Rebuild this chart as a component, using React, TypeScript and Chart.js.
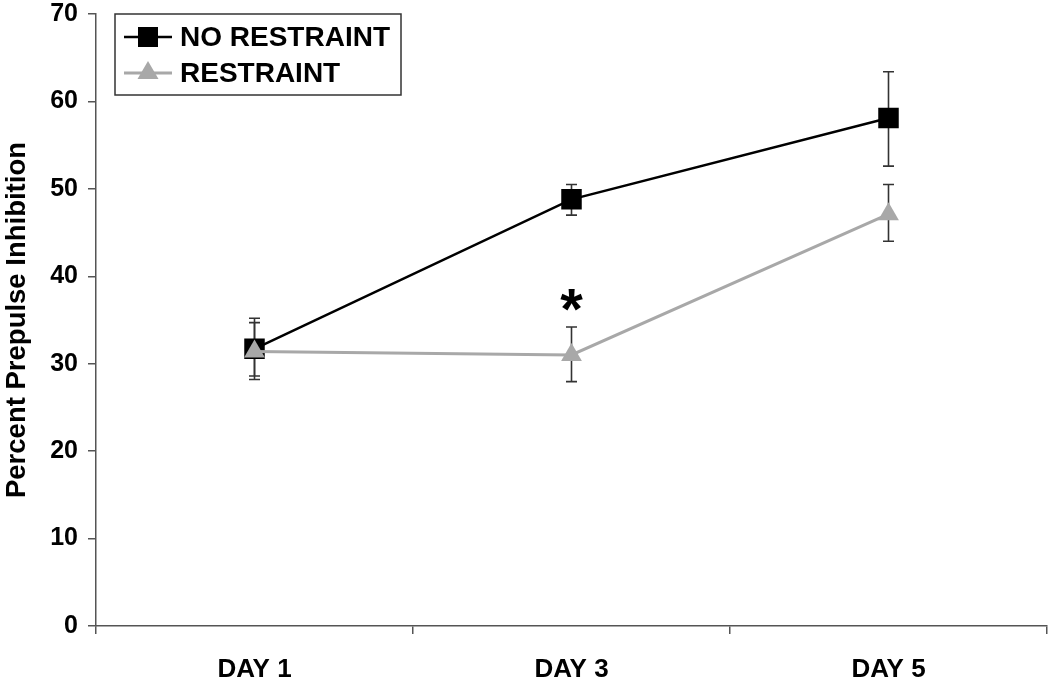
import { useEffect, useRef } from 'react';
import { Chart, registerables } from 'chart.js';

Chart.register(...registerables);

const categories = ['DAY 1', 'DAY 3', 'DAY 5'];
const seriesNames = ['NO RESTRAINT', 'RESTRAINT'];
const noRestraint = [31.7, 48.8, 58.1];
const noRestraintHigh = [35.2, 50.5, 63.4];
const noRestraintLow = [28.2, 47.0, 52.6];
const restraint = [31.4, 31.0, 47.1];
const restraintHigh = [34.7, 34.2, 50.5];
const restraintLow = [28.6, 27.95, 44.0];
const yTicks = [0, 10, 20, 30, 40, 50, 60, 70];
const yTitle = 'Percent Prepulse Inhibition';
const markCategories = ['DAY 3'];
const markValues = [37.3];
const markLabels = ['*'];

const FONT = "'Liberation Sans', Arial, sans-serif";
const BLACK = '#000000';
const GRAY = '#a8a8a8';
const AXIS = '#555555';

const errorBars = {
  id: 'errorBars',
  beforeDatasetsDraw(chart: any) {
    const ctx = chart.ctx;
    const y = chart.scales.y;
    const highs = [noRestraintHigh, restraintHigh];
    const lows = [noRestraintLow, restraintLow];
    ctx.save();
    ctx.strokeStyle = '#333333';
    ctx.lineWidth = 1.6;
    for (let i = 0; i < 2; i++) {
      const meta = chart.getDatasetMeta(i);
      meta.data.forEach((pt: any, j: number) => {
        const x = pt.x;
        const yh = y.getPixelForValue(highs[i][j]);
        const yl = y.getPixelForValue(lows[i][j]);
        ctx.beginPath();
        ctx.moveTo(x, yh);
        ctx.lineTo(x, yl);
        ctx.moveTo(x - 5.5, yh);
        ctx.lineTo(x + 5.5, yh);
        ctx.moveTo(x - 5.5, yl);
        ctx.lineTo(x + 5.5, yl);
        ctx.stroke();
      });
    }
    ctx.restore();
  },
};

const overlay = {
  id: 'overlay',
  afterDraw(chart: any) {
    const ctx = chart.ctx;
    const area = chart.chartArea;
    const xs = chart.scales.x;
    const ys = chart.scales.y;
    ctx.save();
    // significance marks
    ctx.fillStyle = BLACK;
    ctx.font = `bold 58px ${FONT}`;
    ctx.textAlign = 'center';
    ctx.textBaseline = 'alphabetic';
    markLabels.forEach((lab, k) => {
      const x = xs.getPixelForValue(categories.indexOf(markCategories[k]));
      const yc = ys.getPixelForValue(markValues[k]);
      const m = ctx.measureText(lab);
      const off = (m.actualBoundingBoxAscent - m.actualBoundingBoxDescent) / 2;
      ctx.fillText(lab, x, yc + off);
    });
    // legend
    const lx = area.left + 19;
    const ly = area.top;
    const lw = 286;
    const lh = 81;
    ctx.strokeStyle = '#333333';
    ctx.lineWidth = 1.5;
    ctx.strokeRect(lx, ly, lw, lh);
    const rows = [
      { y: ly + 23, color: BLACK, style: 'rect', width: 2.5 },
      { y: ly + 59, color: GRAY, style: 'triangle', width: 3 },
    ];
    rows.forEach((r, i) => {
      ctx.strokeStyle = r.color;
      ctx.lineWidth = r.width;
      ctx.beginPath();
      ctx.moveTo(lx + 9, r.y);
      ctx.lineTo(lx + 57, r.y);
      ctx.stroke();
      ctx.fillStyle = r.color;
      const cx = lx + 33;
      if (r.style === 'rect') {
        ctx.fillRect(cx - 10, r.y - 10, 20, 20);
      } else {
        ctx.beginPath();
        ctx.moveTo(cx, r.y - 12);
        ctx.lineTo(cx + 10.5, r.y + 6);
        ctx.lineTo(cx - 10.5, r.y + 6);
        ctx.closePath();
        ctx.fill();
      }
      ctx.fillStyle = BLACK;
      ctx.font = `bold 28px ${FONT}`;
      ctx.textAlign = 'left';
      ctx.textBaseline = 'middle';
      ctx.fillText(seriesNames[i], lx + 65, r.y + 1);
    });
    ctx.restore();
  },
};

export default function App() {
  const ref = useRef<HTMLCanvasElement | null>(null);
  useEffect(() => {
    if (!ref.current) return;
    const chart = new Chart(ref.current, {
      type: 'line',
      data: {
        labels: categories,
        datasets: [
          {
            label: seriesNames[0],
            data: noRestraint,
            borderColor: BLACK,
            backgroundColor: BLACK,
            borderWidth: 2.5,
            pointStyle: 'rect',
            pointRadius: 14.5,
            pointBorderWidth: 0,
            pointBackgroundColor: BLACK,
            order: 1,
          },
          {
            label: seriesNames[1],
            data: restraint,
            borderColor: GRAY,
            backgroundColor: GRAY,
            borderWidth: 3,
            pointStyle: 'triangle',
            pointRadius: 12,
            pointBorderWidth: 0,
            pointBackgroundColor: GRAY,
            order: 0,
          },
        ],
      },
      options: {
        animation: false,
        responsive: false,
        maintainAspectRatio: false,
        layout: { autoPadding: false, padding: { top: 14, right: 3, left: 0, bottom: 0 } },
        plugins: { legend: { display: false }, tooltip: { enabled: false } },
        scales: {
          x: {
            type: 'category',
            offset: true,
            grid: {
              offset: true,
              drawOnChartArea: false,
              drawTicks: true,
              tickLength: 8,
              color: AXIS,
              lineWidth: 1.5,
            },
            border: { display: true, color: AXIS, width: 1.5 },
            ticks: {
              color: BLACK,
              padding: 20,
              font: { family: FONT, size: 26, weight: 'bold' },
            },
            afterFit(scale: any) {
              scale.height = 52;
              scale.paddingLeft = 0;
              scale.paddingRight = 0;
            },
          },
          y: {
            min: 0,
            max: 70,
            afterBuildTicks(scale: any) {
              scale.ticks = yTicks.map((v) => ({ value: v }));
            },
            grid: {
              drawOnChartArea: false,
              drawTicks: true,
              tickLength: 8,
              color: AXIS,
              lineWidth: 1.5,
            },
            border: { display: true, color: AXIS, width: 1.5 },
            ticks: {
              color: BLACK,
              padding: 10,
              font: { family: FONT, size: 25, weight: 'bold' },
            },
            title: {
              display: true,
              text: yTitle,
              color: BLACK,
              padding: { top: 1, bottom: 0 },
              font: { family: FONT, size: 27.5, weight: 'bold' },
            },
            afterFit(scale: any) {
              scale.width = 96;
              scale.paddingTop = 0;
              scale.paddingBottom = 0;
              scale.paddingLeft = 0;
              scale.paddingRight = 0;
            },
          },
        },
      },
      plugins: [errorBars, overlay],
    });
    return () => chart.destroy();
  }, []);
  return (
    <div style={{ position: 'fixed', left: 0, top: 0, width: 1050, height: 678, background: '#fff' }}>
      <canvas ref={ref} width={1050} height={678} style={{ width: 1050, height: 678 }} />
    </div>
  );
}
